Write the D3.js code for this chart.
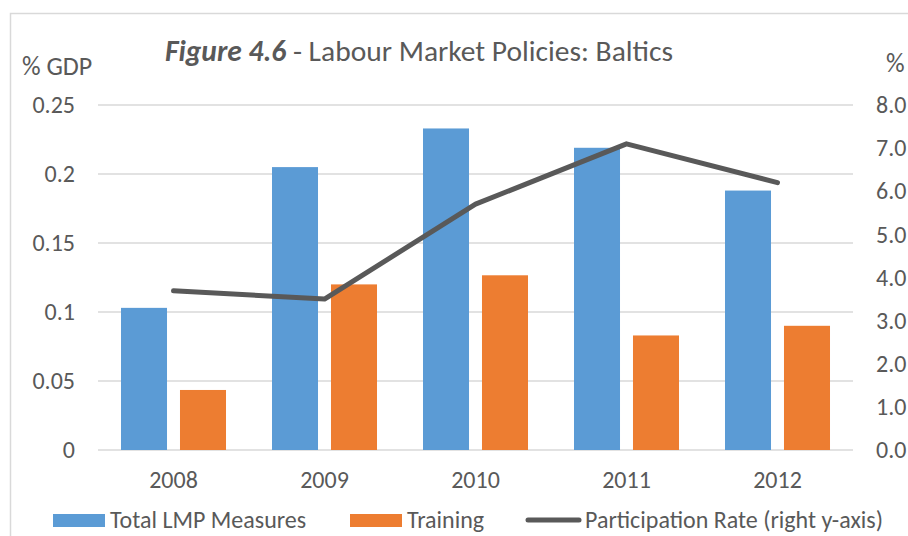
<!DOCTYPE html>
<html>
<head>
<meta charset="utf-8">
<script src="https://cdn.jsdelivr.net/npm/d3@7"></script>
<style>
  body { margin: 0; background: #fff; }
  svg text { font-family: Carlito, Lato, sans-serif; fill: #595959; }
</style>
</head>
<body>
<div id="chart"></div>
<script>
const years = ["2008", "2009", "2010", "2011", "2012"];
const totalLmp = [0.103, 0.205, 0.233, 0.219, 0.188];
const training = [0.0435, 0.12, 0.1266, 0.083, 0.09];
const participation = [3.69, 3.5, 5.7, 7.1, 6.2];
const leftTicks = [0, 0.05, 0.1, 0.15, 0.2, 0.25];
const rightTicks = [0, 1, 2, 3, 4, 5, 6, 7, 8];
const seriesNames = ["Total LMP Measures", "Training", "Participation Rate (right y-axis)"];

const width = 908, height = 536;
const colors = { total: "#5B9BD5", training: "#ED7D31", line: "#595959", grid: "#d9d9d9" };
const labelSize = "24px";

const svg = d3.select("#chart").append("svg")
  .attr("width", width)
  .attr("height", height);

// outer chart border (clipped at right/bottom like the reference)
svg.append("rect")
  .attr("x", 10.5).attr("y", 13.5)
  .attr("width", 920).attr("height", 540)
  .attr("fill", "none")
  .attr("stroke", colors.grid)
  .attr("stroke-width", 1.5);

const plot = { left: 98, right: 853, top: 105, bottom: 450 };

const x0 = d3.scaleBand()
  .domain(years)
  .range([plot.left, plot.right])
  .paddingInner(0.3046)
  .paddingOuter(0.1523);

const x1 = d3.scaleBand()
  .domain(["total", "training"])
  .range([0, x0.bandwidth()])
  .paddingInner(0.22);

const yLeft = d3.scaleLinear().domain([0, 0.25]).range([plot.bottom, plot.top]);
const yRight = d3.scaleLinear().domain([0, 8]).range([plot.bottom, plot.top]);

// gridlines
svg.append("g")
  .selectAll("line")
  .data(leftTicks)
  .join("line")
  .attr("x1", plot.left)
  .attr("x2", plot.right)
  .attr("y1", d => yLeft(d))
  .attr("y2", d => yLeft(d))
  .attr("stroke", colors.grid)
  .attr("stroke-width", 1.5);

// left axis
const leftAxis = svg.append("g")
  .attr("transform", `translate(${plot.left},0)`)
  .call(d3.axisLeft(yLeft).tickValues(leftTicks).tickSize(0).tickPadding(23)
    .tickFormat(d => String(+d.toFixed(2))));
leftAxis.select(".domain").remove();
leftAxis.selectAll("text").style("font-size", labelSize).attr("fill", null);

// right axis
const rightAxis = svg.append("g")
  .attr("transform", `translate(${plot.right},0)`)
  .call(d3.axisRight(yRight).tickValues(rightTicks).tickSize(0).tickPadding(23)
    .tickFormat(d3.format(".1f")));
rightAxis.select(".domain").remove();
rightAxis.selectAll("text").style("font-size", labelSize).attr("fill", null);

// bars
const groups = svg.append("g")
  .selectAll("g")
  .data(years.map((y, i) => ({ year: y, total: totalLmp[i], training: training[i] })))
  .join("g")
  .attr("transform", d => `translate(${x0(d.year)},0)`);

groups.selectAll("rect")
  .data(d => ["total", "training"].map(k => ({ key: k, value: d[k] })))
  .join("rect")
  .attr("x", d => x1(d.key))
  .attr("width", x1.bandwidth())
  .attr("y", d => yLeft(d.value))
  .attr("height", d => yLeft(0) - yLeft(d.value))
  .attr("fill", d => colors[d.key]);

// participation line
const line = d3.line()
  .x((d, i) => x0(years[i]) + x0.bandwidth() / 2)
  .y(d => yRight(d));

svg.append("path")
  .datum(participation)
  .attr("d", line)
  .attr("fill", "none")
  .attr("stroke", colors.line)
  .attr("stroke-width", 5)
  .attr("stroke-linecap", "round")
  .attr("stroke-linejoin", "round");

// bottom axis
const bottomAxis = svg.append("g")
  .attr("transform", `translate(0,${plot.bottom})`)
  .call(d3.axisBottom(x0).tickSize(0).tickPadding(21));
bottomAxis.select(".domain").remove();
bottomAxis.selectAll("text").style("font-size", labelSize).attr("fill", null);

// titles
const title = svg.append("text")
  .attr("x", 165).attr("y", 61)
  .style("font-size", "29.5px");
title.append("tspan").attr("font-weight", "bold").attr("font-style", "italic").text("Figure 4.6");
title.append("tspan").text(" - Labour Market Policies: Baltics");

svg.append("text").attr("x", 22).attr("y", 75).style("font-size", "26px").text("% GDP");
svg.append("text").attr("x", 886).attr("y", 72).style("font-size", "26px").text("%");

// legend
const legend = svg.append("g");
legend.append("rect").attr("x", 53).attr("y", 514).attr("width", 52).attr("height", 13).attr("fill", colors.total);
legend.append("text").attr("x", 110).attr("y", 528).style("font-size", labelSize).text(seriesNames[0]);
legend.append("rect").attr("x", 350).attr("y", 514).attr("width", 52).attr("height", 13).attr("fill", colors.training);
legend.append("text").attr("x", 407).attr("y", 528).style("font-size", labelSize).text(seriesNames[1]);
legend.append("line").attr("x1", 528).attr("x2", 579).attr("y1", 520).attr("y2", 520)
  .attr("stroke", colors.line).attr("stroke-width", 5).attr("stroke-linecap", "round");
legend.append("text").attr("x", 585).attr("y", 528).style("font-size", labelSize).text(seriesNames[2]);
</script>
</body>
</html>
